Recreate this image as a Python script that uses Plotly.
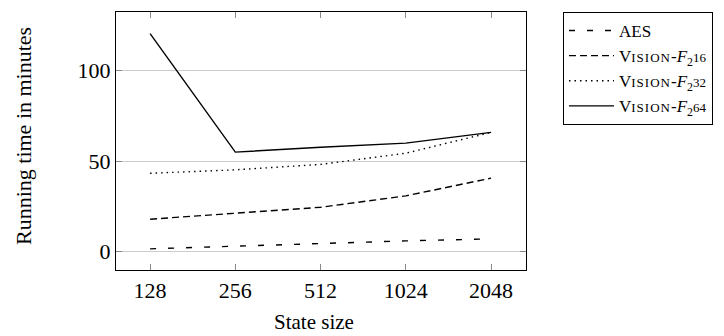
import plotly.graph_objects as go

categories = ["128", "256", "512", "1024", "2048"]
aes = [1.5, 3.1, 4.6, 5.9, 7.0]
f216 = [17.9, 21.2, 24.5, 30.8, 40.6]
f232 = [43.3, 45.2, 48.2, 54.4, 65.9]
f264 = [120.5, 55.0, 57.7, 60.0, 65.9]

SC = "<span style='font-size:13px;letter-spacing:1px'>ISION</span>"
SUP = "<span style='font-size:13px'>%s</span>"
names = ["AES",
         "V" + SC + "-<i>F</i><sub>2</sub>" + SUP % "16",
         "V" + SC + "-<i>F</i><sub>2</sub>" + SUP % "32",
         "V" + SC + "-<i>F</i><sub>2</sub>" + SUP % "64"]
dashes = ["6px,12px", "7px,4px", "1.5px,4px", "solid"]
series = [aes, f216, f232, f264]

FONT = "Liberation Serif"
fig = go.Figure()
for i, (nm, ys, d) in enumerate(zip(names, series, dashes)):
    fig.add_trace(go.Scatter(x=list(range(len(categories))), y=ys, mode="lines", name=nm,
                             legendgroup="g%d" % i,
                             line=dict(color="black", width=1.4, dash=d)))

# plot area in figure coords
L, T, W, H = 108, 4, 410, 258
FW, FH = 718, 331
fig.update_layout(
    width=FW, height=FH,
    margin=dict(l=L, r=FW - L - W, t=T, b=FH - T - H),
    paper_bgcolor="white", plot_bgcolor="white",
    font=dict(family=FONT, color="black", size=22),
    legend=dict(x=(555 - L) / W, y=1, xanchor="left", yanchor="top",
                bordercolor="black", borderwidth=1, font=dict(size=17, family=FONT),
                tracegroupgap=0, itemwidth=45),
    xaxis=dict(tickvals=list(range(len(categories))), ticktext=categories,
               range=[-0.40, 4.41], showgrid=False, zeroline=False, automargin=False,
               showline=True, linecolor="black", linewidth=1.2, mirror="ticks",
               ticks="inside", ticklen=6, tickcolor="#888",
               tickfont=dict(family=FONT, size=22)),
    yaxis=dict(tickvals=[0, 50, 100], range=[-10.2, 132.5],
               showgrid=True, gridcolor="#cccccc", gridwidth=1, zeroline=False, automargin=False,
               showline=True, linecolor="black", linewidth=1.2, mirror="ticks",
               ticks="inside", ticklen=6, tickcolor="#888",
               tickfont=dict(family=FONT, size=22)),
    annotations=[
        dict(text="Running time in minutes", xref="paper", yref="paper",
             x=(16 - L) / W, y=1 - (128 - T) / H, textangle=-90, showarrow=False,
             xanchor="center", yanchor="middle", font=dict(family=FONT, size=22)),
        dict(text="State size", xref="paper", yref="paper",
             x=(306 - L) / W, y=1 - (314 - T) / H, showarrow=False,
             xanchor="center", yanchor="middle", font=dict(family=FONT, size=21)),
    ],
)
fig.write_html("out.html")
